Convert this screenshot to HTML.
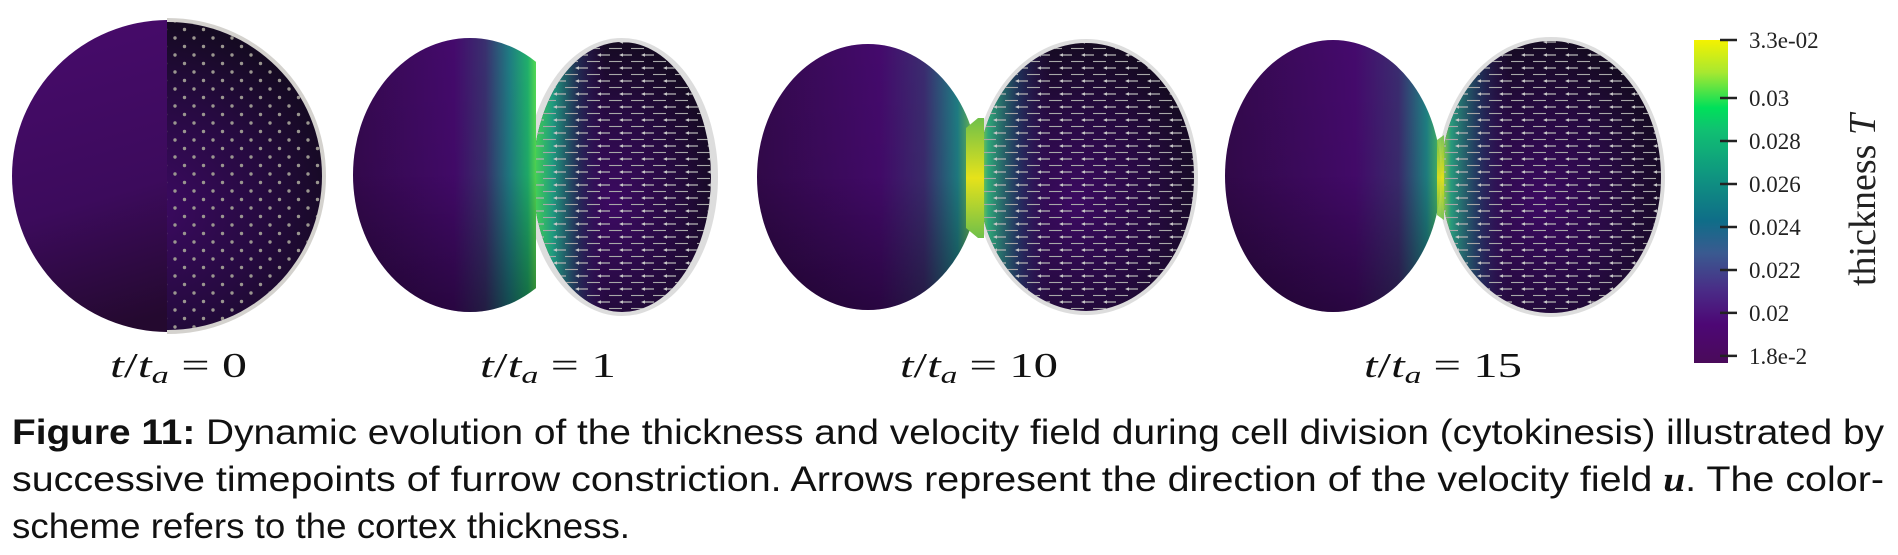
<!DOCTYPE html>
<html><head><meta charset="utf-8">
<style>
html,body{margin:0;padding:0;background:#fff;}
svg{display:block;}
</style></head>
<body>
<svg id="fig" width="1898" height="555" viewBox="0 0 1898 555" xmlns="http://www.w3.org/2000/svg">
<defs>
  <pattern id="dots" width="19" height="17" patternUnits="userSpaceOnUse">
    <circle cx="4" cy="4" r="1.7" fill="#9a968f"/>
    <circle cx="13.5" cy="12.5" r="1.7" fill="#9a968f"/>
  </pattern>
  <pattern id="arrows" width="22" height="13" patternUnits="userSpaceOnUse">
    <line x1="5" y1="3" x2="16" y2="3" stroke="#b0b0b0" stroke-width="1.3"/>
    <path d="M3,3 L7,1.2 L7,4.8 Z" fill="#c8c8c8"/>
    <line x1="-3" y1="9.5" x2="6" y2="9.5" stroke="#a8a8a8" stroke-width="1.1"/>
    <line x1="15" y1="9.5" x2="22" y2="9.5" stroke="#a8a8a8" stroke-width="1.1"/>
  </pattern>
  <linearGradient id="shadeV" x1="0" y1="0" x2="0" y2="1">
    <stop offset="0" stop-color="#000" stop-opacity="0"/>
    <stop offset="0.5" stop-color="#000" stop-opacity="0.05"/>
    <stop offset="1" stop-color="#000" stop-opacity="0.4"/>
  </linearGradient>
  <linearGradient id="p1left" x1="0" y1="0" x2="0.3" y2="1">
    <stop offset="0" stop-color="#480b6c"/>
    <stop offset="0.6" stop-color="#3c0b5c"/>
    <stop offset="1" stop-color="#24092f"/>
  </linearGradient>
  <radialGradient id="darkLobe" cx="0.45" cy="0.6" r="0.6">
    <stop offset="0" stop-color="#3c0a62"/>
    <stop offset="0.6" stop-color="#260a40"/>
    <stop offset="1" stop-color="#150a22"/>
  </radialGradient>
  <linearGradient id="p2left" gradientUnits="userSpaceOnUse" x1="353" y1="0" x2="537" y2="0">
    <stop offset="0" stop-color="#35094f"/>
    <stop offset="0.55" stop-color="#440a6c"/>
    <stop offset="0.72" stop-color="#39306f"/>
    <stop offset="0.85" stop-color="#1f7c83"/>
    <stop offset="0.95" stop-color="#20b06c"/>
    <stop offset="1" stop-color="#5ae050"/>
  </linearGradient>
  <linearGradient id="p2right" gradientUnits="userSpaceOnUse" x1="535" y1="0" x2="712" y2="0">
    <stop offset="0" stop-color="#44d055"/>
    <stop offset="0.1" stop-color="#1f9a7f"/>
    <stop offset="0.25" stop-color="#23305a" stop-opacity="0.8"/>
    <stop offset="0.4" stop-color="#3a0a60" stop-opacity="0"/>
    <stop offset="1" stop-color="#3a0a60" stop-opacity="0"/>
  </linearGradient>
  <linearGradient id="p3left" gradientUnits="userSpaceOnUse" x1="757" y1="0" x2="980" y2="0">
    <stop offset="0" stop-color="#33094c"/>
    <stop offset="0.55" stop-color="#440a6c"/>
    <stop offset="0.75" stop-color="#3b2c70"/>
    <stop offset="0.9" stop-color="#1f7e84"/>
    <stop offset="1" stop-color="#8fd43a"/>
  </linearGradient>
  <linearGradient id="p3right" gradientUnits="userSpaceOnUse" x1="975" y1="0" x2="1195" y2="0">
    <stop offset="0" stop-color="#d8e21c"/>
    <stop offset="0.06" stop-color="#2ea878"/>
    <stop offset="0.2" stop-color="#22406a" stop-opacity="0.7"/>
    <stop offset="0.35" stop-color="#3a0a60" stop-opacity="0"/>
    <stop offset="1" stop-color="#3a0a60" stop-opacity="0"/>
  </linearGradient>
  <linearGradient id="p4left" gradientUnits="userSpaceOnUse" x1="1225" y1="0" x2="1442" y2="0">
    <stop offset="0" stop-color="#33094c"/>
    <stop offset="0.6" stop-color="#450a6d"/>
    <stop offset="0.8" stop-color="#3b2c70"/>
    <stop offset="0.93" stop-color="#1f8284"/>
    <stop offset="1" stop-color="#52c45e"/>
  </linearGradient>
  <linearGradient id="p4right" gradientUnits="userSpaceOnUse" x1="1440" y1="0" x2="1661" y2="0">
    <stop offset="0" stop-color="#b8d830"/>
    <stop offset="0.05" stop-color="#289a7c"/>
    <stop offset="0.18" stop-color="#22406a" stop-opacity="0.7"/>
    <stop offset="0.32" stop-color="#3a0a60" stop-opacity="0"/>
    <stop offset="1" stop-color="#3a0a60" stop-opacity="0"/>
  </linearGradient>
  <linearGradient id="neck" x1="0" y1="0" x2="0" y2="1">
    <stop offset="0" stop-color="#6fc04a"/>
    <stop offset="0.5" stop-color="#e6e21a"/>
    <stop offset="1" stop-color="#6fc04a"/>
  </linearGradient>
  <linearGradient id="viridis" x1="0" y1="1" x2="0" y2="0">
    <stop offset="0" stop-color="#4a0a5a"/>
    <stop offset="0.12" stop-color="#4d0775"/>
    <stop offset="0.22" stop-color="#4a2a86"/>
    <stop offset="0.34" stop-color="#3a5a90"/>
    <stop offset="0.44" stop-color="#0f6d88"/>
    <stop offset="0.58" stop-color="#0f9580"/>
    <stop offset="0.72" stop-color="#10c072"/>
    <stop offset="0.79" stop-color="#00e05a"/>
    <stop offset="0.9" stop-color="#a8e830"/>
    <stop offset="1" stop-color="#f4f200"/>
  </linearGradient>
  <clipPath id="c1r"><rect x="167" y="0" width="200" height="400"/></clipPath>
  <clipPath id="c1l"><rect x="0" y="0" width="167" height="400"/></clipPath>
  <clipPath id="c2l"><rect x="300" y="0" width="236" height="400"/></clipPath>
  <clipPath id="c2r"><rect x="536" y="0" width="220" height="400"/></clipPath>
  <clipPath id="c3r"><rect x="976" y="0" width="240" height="400"/></clipPath>
  <clipPath id="c4r"><rect x="1441" y="0" width="240" height="400"/></clipPath>
</defs>

<!-- Panel 1 -->
<g>
  <circle cx="168" cy="176" r="156" fill="url(#p1left)" clip-path="url(#c1l)"/>
  <g clip-path="url(#c1r)">
    <circle cx="168" cy="176" r="158" fill="#b8b4ae" opacity="0.6"/>
    <circle cx="168" cy="176" r="154" fill="url(#darkLobe)"/>
    <circle cx="168" cy="176" r="154" fill="url(#dots)"/>
  </g>
</g>

<!-- Panel 2 -->
<g>
  <ellipse cx="622" cy="177" rx="96" ry="139" fill="#bbb" opacity="0.5" clip-path="url(#c2r)"/>
  <g clip-path="url(#c2r)">
    <ellipse cx="622" cy="177" rx="89" ry="135" fill="url(#darkLobe)"/>
    <ellipse cx="622" cy="177" rx="89" ry="135" fill="url(#p2right)"/>
    <ellipse cx="622" cy="177" rx="89" ry="135" fill="url(#arrows)"/>
  </g>
  <g clip-path="url(#c2l)">
    <ellipse cx="470" cy="175" rx="117" ry="137" fill="url(#p2left)"/>
    <ellipse cx="470" cy="175" rx="117" ry="137" fill="url(#shadeV)"/>
  </g>
</g>

<!-- Panel 3 -->
<g>
  <ellipse cx="1086" cy="177" rx="112" ry="138" fill="#bbb" opacity="0.5" clip-path="url(#c3r)"/>
  <g clip-path="url(#c3r)">
    <ellipse cx="1086" cy="177" rx="108" ry="134" fill="url(#darkLobe)"/>
    <ellipse cx="1086" cy="177" rx="108" ry="134" fill="url(#p3right)"/>
    <ellipse cx="1086" cy="177" rx="108" ry="134" fill="url(#arrows)"/>
  </g>
  <ellipse cx="868" cy="177" rx="111" ry="133" fill="url(#p3left)"/>
  <ellipse cx="868" cy="177" rx="111" ry="133" fill="url(#shadeV)"/>
  <path d="M966,128 L978,118 L984,118 L984,238 L978,238 L966,228 Z" fill="url(#neck)"/>
</g>

<!-- Panel 4 -->
<g>
  <ellipse cx="1551" cy="177" rx="114" ry="140" fill="#bbb" opacity="0.5" clip-path="url(#c4r)"/>
  <g clip-path="url(#c4r)">
    <ellipse cx="1551" cy="177" rx="110" ry="136" fill="url(#darkLobe)"/>
    <ellipse cx="1551" cy="177" rx="110" ry="136" fill="url(#p4right)"/>
    <ellipse cx="1551" cy="177" rx="110" ry="136" fill="url(#arrows)"/>
  </g>
  <ellipse cx="1333" cy="176" rx="108" ry="136" fill="url(#p4left)"/>
  <ellipse cx="1333" cy="176" rx="108" ry="136" fill="url(#shadeV)"/>
  <path d="M1437,140 L1444,135 L1444,220 L1437,215 Z" fill="url(#neck)" opacity="0.9"/>
</g>

<!-- time labels -->
<g font-family="Liberation Serif, serif" font-size="35" fill="#111">
  <text x="110" y="377" textLength="137" lengthAdjust="spacingAndGlyphs"><tspan font-style="italic">t</tspan>/<tspan font-style="italic">t</tspan><tspan font-style="italic" font-size="24" dy="6">a</tspan><tspan dy="-6"> = 0</tspan></text>
  <text x="480" y="377" textLength="136" lengthAdjust="spacingAndGlyphs"><tspan font-style="italic">t</tspan>/<tspan font-style="italic">t</tspan><tspan font-style="italic" font-size="24" dy="6">a</tspan><tspan dy="-6"> = 1</tspan></text>
  <text x="900" y="377" textLength="158" lengthAdjust="spacingAndGlyphs"><tspan font-style="italic">t</tspan>/<tspan font-style="italic">t</tspan><tspan font-style="italic" font-size="24" dy="6">a</tspan><tspan dy="-6"> = 10</tspan></text>
  <text x="1364" y="377" textLength="158" lengthAdjust="spacingAndGlyphs"><tspan font-style="italic">t</tspan>/<tspan font-style="italic">t</tspan><tspan font-style="italic" font-size="24" dy="6">a</tspan><tspan dy="-6"> = 15</tspan></text>
</g>

<!-- colorbar -->
<g id="colorbar">
  <rect x="1694" y="40" width="34" height="323" fill="url(#viridis)"/>
  <g id="cbticks"></g>
  <text transform="translate(1875,200) rotate(-90)" text-anchor="middle" font-family="Liberation Serif, serif" font-size="38" fill="#222">thickness <tspan font-style="italic">T</tspan></text>
</g>

<!-- caption -->
<g font-family="Liberation Sans, sans-serif" font-size="35" fill="#111">
  <text x="12" y="444" textLength="1872" lengthAdjust="spacingAndGlyphs"><tspan font-weight="bold">Figure 11:</tspan> Dynamic evolution of the thickness and velocity field during cell division (cytokinesis) illustrated by</text>
  <text x="12" y="491" textLength="1872" lengthAdjust="spacingAndGlyphs">successive timepoints of furrow constriction.  Arrows represent the direction of the velocity field <tspan font-weight="bold" font-style="italic" font-family="Liberation Serif, serif">u</tspan>.  The color-</text>
  <text x="12" y="538" textLength="618" lengthAdjust="spacingAndGlyphs">scheme refers to the cortex thickness.</text>
</g>
</svg>
<script>
const tickValues = [0.018, 0.02, 0.022, 0.024, 0.026, 0.028, 0.03, 0.033];
const tickLabels = ["1.8e-2", "0.02", "0.022", "0.024", "0.026", "0.028", "0.03", "3.3e-02"];
const domainMin = 0.01767, domainMax = 0.0327;
const barTop = 40, barBottom = 363;
function yScale(v) {
  const y = barBottom - (v - domainMin) / (domainMax - domainMin) * (barBottom - barTop);
  return Math.max(barTop, Math.min(barBottom, y));
}
const NS = "http://www.w3.org/2000/svg";
const g = document.getElementById("cbticks");
tickValues.forEach((v, i) => {
  const y = yScale(v);
  const ln = document.createElementNS(NS, "line");
  
  
  ln.setAttribute("x1", 1720); ln.setAttribute("x2", 1737);
  ln.setAttribute("y1", y); ln.setAttribute("y2", y);
  ln.setAttribute("stroke", "#222"); ln.setAttribute("stroke-width", "2.5");
  g.appendChild(ln);
  const t = document.createElementNS(NS, "text");
  
  
  t.setAttribute("x", 1749); t.setAttribute("y", y + 8);
  t.setAttribute("font-family", "Liberation Serif, serif");
  t.setAttribute("font-size", "23");
  t.setAttribute("fill", "#222");
  t.textContent = tickLabels[i];
  g.appendChild(t);
});
</script>
</body></html>
